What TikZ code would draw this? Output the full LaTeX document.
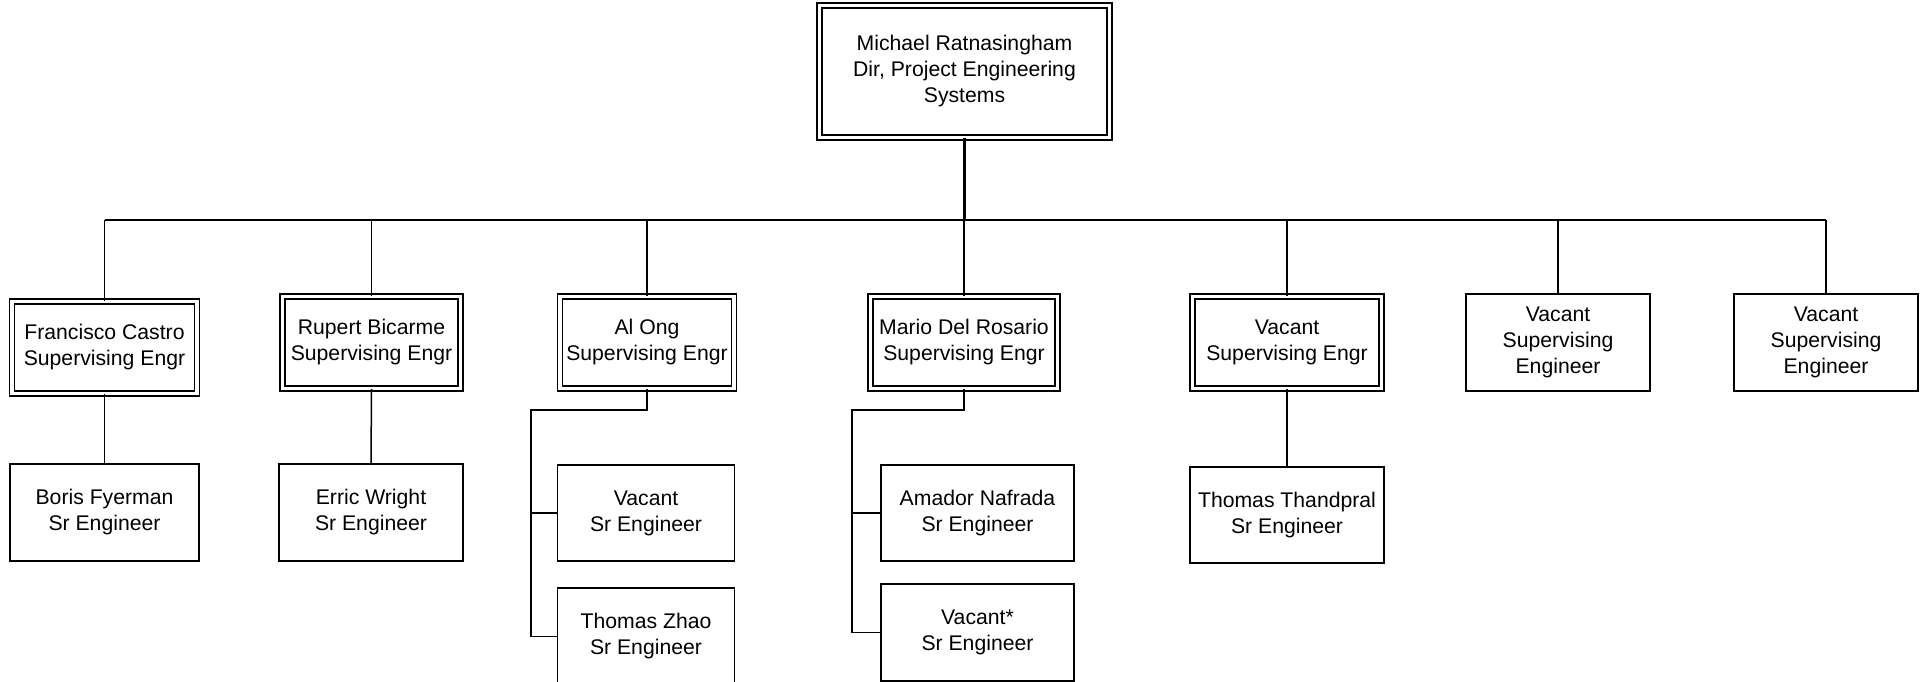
\documentclass[tikz,border=0pt]{standalone}
\usepackage{fontspec}
\setmainfont{Liberation Sans}
\begin{document}
\begin{tikzpicture}[x=1pt,y=-1pt,
  txt/.style={align=center,font=\fontsize{21.2}{26}\selectfont,inner sep=0pt},
  single/.style={txt,draw,line width=1.5pt,fill=white},
  dbl/.style={txt,draw,line width=1.4pt,double,double distance=3.6pt},
  conn/.style={line width=1.5pt},
  ]
\useasboundingbox (0,0) rectangle (1925,682);
% director
\node[dbl,minimum width=290pt,minimum height=132pt] (dir) at (964.5,71.5) {Michael Ratnasingham\\Dir, Project Engineering\\Systems};
% level 2
\node[dbl,minimum width=185pt,minimum height=92pt] (fc) at (104.5,347.5) {Francisco Castro\\Supervising Engr};
\node[dbl,minimum width=178pt,minimum height=92pt] (rb) at (371.5,342.5) {Rupert Bicarme\\Supervising Engr};
\node[dbl,minimum width=174pt,minimum height=92pt] (ao) at (647,342.5) {Al Ong\\Supervising Engr};
\node[dbl,minimum width=187pt,minimum height=92pt] (md) at (964,342.5) {Mario Del Rosario\\Supervising Engr};
\node[dbl,minimum width=189pt,minimum height=92pt] (vs) at (1287,342.5) {Vacant\\Supervising Engr};
\node[single,minimum width=184pt,minimum height=97pt] (v1) at (1558,342.5) {Vacant\\Supervising\\Engineer};
\node[single,minimum width=184pt,minimum height=97pt] (v2) at (1826,342.5) {Vacant\\Supervising\\Engineer};
% level 3
\node[single,minimum width=189pt,minimum height=97pt] (bf) at (104.5,512.5) {Boris Fyerman\\Sr Engineer};
\node[single,minimum width=184pt,minimum height=97pt] (ew) at (371,512.5) {Erric Wright\\Sr Engineer};
\node[single,minimum width=177pt,minimum height=96pt] (va) at (646,513) {Vacant\\Sr Engineer};
\node[single,minimum width=177pt,minimum height=97pt] (tz) at (646,636.5) {Thomas Zhao\\Sr Engineer};
\node[single,minimum width=193pt,minimum height=96pt] (an) at (977.5,513) {Amador Nafrada\\Sr Engineer};
\node[single,minimum width=193pt,minimum height=97pt] (vm) at (977.5,632.5) {Vacant*\\Sr Engineer};
\node[single,minimum width=194pt,minimum height=96pt] (tt) at (1287,515) {Thomas Thandpral\\Sr Engineer};
% bus
\coordinate (busL) at (104.5,220);
\coordinate (busR) at (1826,220);
\coordinate (busM) at (964.5,220);
\draw[line width=2.4pt] (dir.south) -- (busM);
\draw[conn] (busL) -- (busR);
\foreach \n in {fc,rb,ao,md,vs,v1,v2}{
  \draw[conn] (\n.north) -- (\n.north |- busM);
}
% level 3 connectors
\draw[conn] (fc.south) -- (bf.north);
\draw[conn] (rb.south) -- (ew.north);
\draw[conn] (vs.south) -- (tt.north);
\coordinate (aoT) at (531,410);
\draw[conn] (ao.south) -- (ao.south |- aoT) -- (aoT) |- (tz.west);
\draw[conn] (aoT |- va.west) -- (va.west);
\coordinate (mdT) at (852,410);
\draw[conn] (md.south) -- (md.south |- mdT) -- (mdT) |- (vm.west);
\draw[conn] (mdT |- an.west) -- (an.west);
\end{tikzpicture}
\end{document}
